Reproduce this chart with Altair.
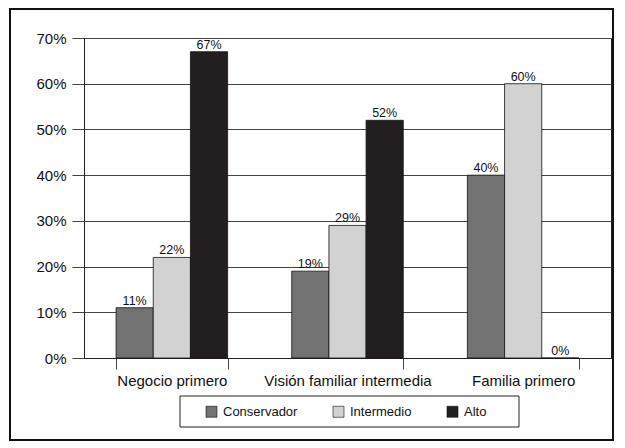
import altair as alt
import pandas as pd

categories = ["Negocio primero", "Visión familiar intermedia", "Familia primero"]
series = ["Conservador", "Intermedio", "Alto"]
conservador = [0.11, 0.19, 0.40]
intermedio = [0.22, 0.29, 0.60]
alto = [0.67, 0.52, 0.00]
colors = ["#727272", "#d2d2d2", "#231f20"]
y_ticks = [0, 0.1, 0.2, 0.3, 0.4, 0.5, 0.6, 0.7]

rows = []
for i, c in enumerate(categories):
    for s, vals in zip(series, [conservador, intermedio, alto]):
        rows.append({"cat": c, "serie": s, "val": vals[i], "order": series.index(s)})
df = pd.DataFrame(rows)

W, H = 527, 320
FONT = "Liberation Sans"

x = alt.X("cat:N", sort=categories, title=None,
          scale=alt.Scale(paddingInner=0.365, paddingOuter=0.1826),
          axis=alt.Axis(labelAngle=0, tickBand="extent", grid=False, tickSize=11,
                        labelPadding=4, labelFontSize=15, labelFont=FONT,
                        labelColor="#111", domainColor="#222", tickColor="#444"))
xoff = alt.XOffset("serie:N", sort=series, scale=alt.Scale(paddingInner=0, paddingOuter=0))
y = alt.Y("val:Q", title=None,
          scale=alt.Scale(domain=[0, 0.7], nice=False),
          axis=alt.Axis(values=y_ticks, format=".0%", tickSize=12, labelPadding=6,
                        labelFontSize=15, labelFont=FONT, labelColor="#111",
                        gridColor="#444", gridWidth=1, domainColor="#222", tickColor="#444"))

base = alt.Chart(df)

bars = base.mark_bar(stroke="#111", strokeWidth=0.8).encode(
    x=x, xOffset=xoff, y=y,
    color=alt.Color("serie:N", sort=series,
                    scale=alt.Scale(domain=series, range=colors),
                    legend=alt.Legend(orient="none", legendX=121, legendY=367,
                                      direction="horizontal", title=None,
                                      symbolType="square", symbolSize=121,
                                      symbolStrokeColor="#111", symbolStrokeWidth=0.6,
                                      labelFontSize=13, labelFont=FONT, labelColor="#111",
                                      columnPadding=33, labelOffset=5, padding=0)),
)

labels = base.mark_text(dy=-7, fontSize=12.5, font=FONT, color="#111").encode(
    x=x, xOffset=xoff, y=y, text=alt.Text("val:Q", format=".0%"),
)

frame_df = pd.DataFrame({"k": [0]})
outer = alt.Chart(frame_df).mark_rect(fill=None, stroke="#111", strokeWidth=2, clip=False).encode(
    x=alt.value(-74), x2=alt.value(529), y=alt.value(-29), y2=alt.value(402)
)
legend_box = alt.Chart(frame_df).mark_rect(fill=None, stroke="#222", strokeWidth=1, clip=False).encode(
    x=alt.value(96), x2=alt.value(435), y=alt.value(358), y2=alt.value(389)
)

chart = alt.layer(bars, labels, outer, legend_box).properties(
    width=W, height=H,
    autosize=alt.AutoSizeParams(type="none"),
    padding={"left": 84, "top": 38, "right": 14, "bottom": 90},
    background="white",
).configure_view(stroke="#222", strokeWidth=1)

chart.save("out.html", embed_options={"renderer": "svg", "actions": False})
